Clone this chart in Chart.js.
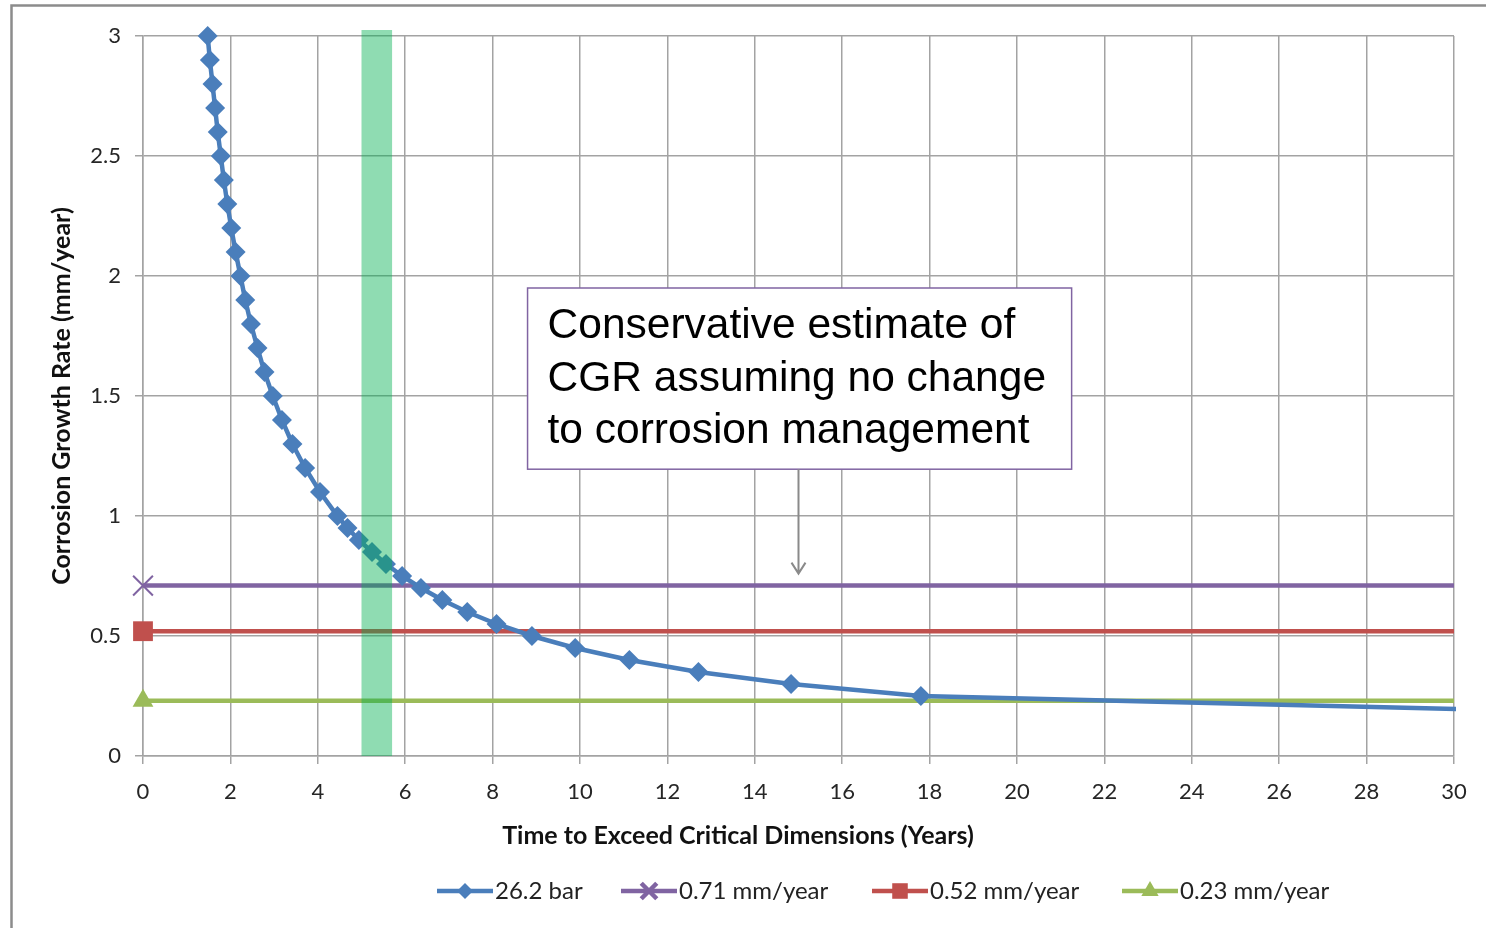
<!DOCTYPE html>
<html>
<head>
<meta charset="utf-8">
<script src="https://cdn.jsdelivr.net/npm/chart.js@4.4.1/dist/chart.umd.min.js"></script>
<style>
  html, body { margin: 0; padding: 0; background: #fff; }
</style>
</head>
<body>
<canvas id="G1" width="1486" height="928"></canvas>
<script>
// 26.2 bar curve: growth rate (mm/year) vs time to exceed critical dimensions (years)
const cgr26 = [3.0, 2.9, 2.8, 2.7, 2.6, 2.5, 2.4, 2.3, 2.2, 2.1, 2.0, 1.9, 1.8, 1.7, 1.6, 1.5, 1.4, 1.3, 1.2, 1.1,
  1.0, 0.95, 0.9, 0.85, 0.8, 0.75, 0.7, 0.65, 0.6, 0.55, 0.5, 0.45, 0.4, 0.35, 0.3, 0.25, 0.15];
const years26 = [1.48, 1.53, 1.59, 1.65, 1.71, 1.78, 1.85, 1.93, 2.02, 2.12, 2.23, 2.34, 2.47, 2.62, 2.78, 2.97, 3.18, 3.42, 3.71, 4.05,
  4.45, 4.68, 4.94, 5.24, 5.56, 5.93, 6.36, 6.85, 7.42, 8.09, 8.9, 9.89, 11.13, 12.71, 14.83, 17.8, 40.3];

// constant rate lines
const flatNames = ['0.71 mm/year', '0.52 mm/year', '0.23 mm/year'];
const flatRates = [0.71, 0.52, 0.23];
const flatYears = [0, 30];

const xTicks = { min: 0, max: 30, step: 2 };
const yTicks = { min: 0, max: 3, step: 0.5 };

// highlighted window (years) and note
const bandYears = [5, 5.7];
const bandRate = [0, 3.025];
const noteLines = ['Conservative estimate of', 'CGR assuming no change', 'to corrosion management'];
const noteYears = [8.8, 21.25];
const noteRates = [1.95, 1.195];
const arrowTo = { year: 15, rate: 0.76 };

const colors = ['#4A7EBB', '#8064A2', '#C0504D', '#9BBB59'];
const markers = ['rectRot', 'crossRot', 'rect', 'triangle'];

const datasets = [{
  label: '26.2 bar',
  data: years26.map((x, i) => ({ x: x, y: cgr26[i] })),
  borderColor: colors[0], backgroundColor: colors[0],
  borderWidth: 4.5, pointStyle: markers[0], pointRadius: 10, pointBorderWidth: 0,
  clip: { left: 0, top: 20, right: 2, bottom: 0 }, order: 0
}];
flatRates.forEach((r, i) => {
  datasets.push({
    label: flatNames[i],
    data: flatYears.map(x => ({ x: x, y: r })),
    borderColor: colors[i + 1], backgroundColor: colors[i + 1],
    borderWidth: 4.5, pointStyle: markers[i + 1],
    pointRadius: [[14, 14, 12][i], 0], pointBorderWidth: i === 0 ? 2 : 0,
    clip: false, order: 1
  });
});

const font = '"Lato", "Open Sans", sans-serif';

const extras = {
  id: 'extras',
  beforeDraw(chart) {
    const ctx = chart.ctx;
    ctx.save();
    ctx.fillStyle = '#fff';
    ctx.fillRect(0, 0, chart.width, chart.height);
    ctx.strokeStyle = '#8c8c8c';
    ctx.lineWidth = 2.5;
    ctx.beginPath();
    ctx.moveTo(11.5, 928);
    ctx.lineTo(11.5, 5.5);
    ctx.lineTo(1486, 5.5);
    ctx.stroke();
    ctx.restore();
  },
  afterDatasetsDraw(chart) {
    const ctx = chart.ctx;
    const xs = chart.scales.x, ys = chart.scales.y;
    ctx.save();
    // green window
    const bx0 = xs.getPixelForValue(bandYears[0]), bx1 = xs.getPixelForValue(bandYears[1]);
    const by0 = ys.getPixelForValue(bandRate[1]), by1 = ys.getPixelForValue(bandRate[0]);
    ctx.fillStyle = 'rgba(0, 176, 80, 0.44)';
    ctx.fillRect(bx0, by0, bx1 - bx0, by1 - by0);

    // note box
    const nx0 = xs.getPixelForValue(noteYears[0]), nx1 = xs.getPixelForValue(noteYears[1]);
    const ny0 = ys.getPixelForValue(noteRates[0]), ny1 = ys.getPixelForValue(noteRates[1]);
    ctx.fillStyle = '#fff';
    ctx.fillRect(nx0, ny0, nx1 - nx0, ny1 - ny0);
    ctx.strokeStyle = '#8064A2';
    ctx.lineWidth = 1.5;
    ctx.strokeRect(nx0, ny0, nx1 - nx0, ny1 - ny0);
    ctx.fillStyle = '#000';
    ctx.font = '42.5px "Liberation Sans", Arial, sans-serif';
    ctx.textAlign = 'left';
    ctx.textBaseline = 'alphabetic';
    noteLines.forEach((t, i) => ctx.fillText(t, nx0 + 20, ny0 + 50 + i * 52.5));

    // arrow
    const ax = xs.getPixelForValue(arrowTo.year), ay = ys.getPixelForValue(arrowTo.rate);
    ctx.strokeStyle = '#8a8a8a';
    ctx.lineWidth = 2;
    ctx.beginPath();
    ctx.moveTo(ax, ny1);
    ctx.lineTo(ax, ay);
    ctx.moveTo(ax - 7, ay - 11);
    ctx.lineTo(ax, ay);
    ctx.lineTo(ax + 7, ay - 11);
    ctx.stroke();

    // axis titles
    ctx.fillStyle = '#111';
    ctx.font = 'bold 25px ' + font;
    ctx.textAlign = 'center';
    ctx.textBaseline = 'middle';
    ctx.fillText('Time to Exceed Critical Dimensions (Years)', 738, 836);
    ctx.translate(62, (ys.top + ys.bottom) / 2);
    ctx.rotate(-Math.PI / 2);
    ctx.fillText('Corrosion Growth Rate (mm/year)', 0, 0);
    ctx.restore();

    // legend: line + marker + label
    ctx.save();
    const legendX = [437, 621, 872, 1122];
    const legendR = [8, 11, 11, 10];
    const ly = 891;
    chart.data.datasets.forEach((ds, i) => {
      const lx = legendX[i];
      ctx.strokeStyle = colors[i];
      ctx.fillStyle = colors[i];
      ctx.lineWidth = 4.5;
      ctx.beginPath();
      ctx.moveTo(lx, ly);
      ctx.lineTo(lx + 56, ly);
      ctx.stroke();
      Chart.helpers.drawPoint(ctx, { pointStyle: markers[i], radius: legendR[i], borderWidth: i === 1 ? 1.5 : 0, rotation: 0 }, lx + 28, ly);
      ctx.fillStyle = '#222';
      ctx.font = '24px ' + font;
      ctx.textAlign = 'left';
      ctx.textBaseline = 'middle';
      ctx.fillText(ds.label, lx + 58, ly);
    });
    ctx.restore();
  }
};

const G1 = {
  type: 'line',
  data: { datasets: datasets },
  options: {
    responsive: false,
    animation: false,
    layout: { padding: { left: 12, top: 36, right: 32, bottom: 0 } },
    plugins: { legend: { display: false }, tooltip: { enabled: false } },
    elements: { line: { tension: 0 } },
    scales: {
      x: {
        type: 'linear', min: xTicks.min, max: xTicks.max,
        ticks: { stepSize: xTicks.step, color: '#262626', font: { family: font, size: 22 }, padding: 15, maxRotation: 0 },
        grid: { color: '#a3a3a3', lineWidth: 1.5, tickLength: 8 },
        border: { color: '#a3a3a3', width: 1.5 },
        afterFit: s => { s.height = 172; }
      },
      y: {
        type: 'linear', min: yTicks.min, max: yTicks.max,
        ticks: { stepSize: yTicks.step, color: '#262626', font: { family: font, size: 22 }, padding: 14,
          callback: v => String(+v.toFixed(1)) },
        grid: { color: '#a3a3a3', lineWidth: 1.5, tickLength: 8 },
        border: { color: '#a3a3a3', width: 1.5 },
        afterFit: s => { s.width = 131; }
      }
    }
  },
  plugins: [extras]
};

new Chart(document.getElementById('G1'), G1);
</script>
</body>
</html>
